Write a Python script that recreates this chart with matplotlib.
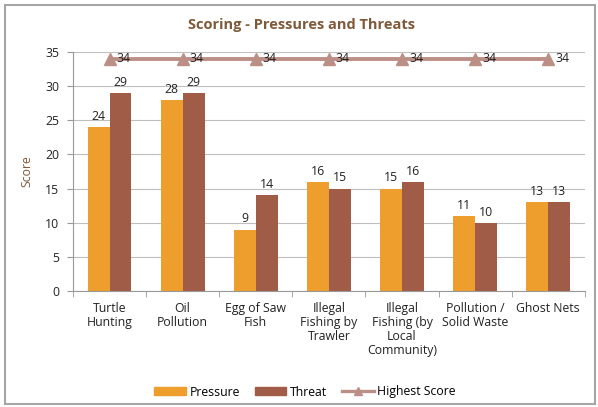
import matplotlib.pyplot as plt
import matplotlib.patches as mpatches
from matplotlib.lines import Line2D
import numpy as np

plt.rcParams['font.family'] = ['Open Sans', 'DejaVu Sans']

## data
categories = ["Turtle\nHunting", "Oil\nPollution", "Egg of Saw\nFish",
              "Illegal\nFishing by\nTrawler",
              "Illegal\nFishing (by\nLocal\nCommunity)",
              "Pollution /\nSolid Waste", "Ghost Nets"]
pressure = [24, 28, 9, 16, 15, 11, 13]
threat = [29, 29, 14, 15, 16, 10, 13]
highest = [34, 34, 34, 34, 34, 34, 34]

c_pressure = "#EE9E2C"
c_threat = "#A05C47"
c_line = "#BC8F86"
c_text = "#7F5A3A"
c_grid = "#BFBFBF"

fig = plt.figure(figsize=(5.98, 4.07), dpi=100)
ax = fig.add_axes([0.122, 0.285, 0.856, 0.587])

x = np.arange(len(categories))
w = 0.30
b1 = ax.bar(x - w / 2, pressure, w, color=c_pressure, zorder=2)
b2 = ax.bar(x + w / 2, threat, w, color=c_threat, zorder=2)
ax.plot(x, highest, color=c_line, lw=2.8, marker="^", ms=8, zorder=3)

for rect, v in zip(list(b1) + list(b2), pressure + threat):
    ax.annotate(str(v), (rect.get_x() + rect.get_width() / 2, v),
                xytext=(0, 3), textcoords="offset points",
                ha="center", va="bottom", fontsize=8.8, color="#222222")
for xi, v in zip(x, highest):
    ax.annotate(str(v), (xi, v), xytext=(5, 0), textcoords="offset points",
                ha="left", va="center", fontsize=8.8, color="#222222", zorder=4)

ax.set_xlim(-0.5, len(categories) - 0.5)
ax.set_ylim(0, 35)
ax.set_yticks(range(0, 36, 5))
ax.yaxis.grid(True, color=c_grid, lw=0.8, zorder=0)
ax.set_xticks(x)
ax.set_xticklabels(categories, fontsize=8.8, linespacing=1.1, color="#222222")
ax.set_xticks(np.arange(-0.5, len(categories)), minor=True)
ax.tick_params(axis="x", which="major", length=0, pad=8)
ax.tick_params(axis="x", which="minor", length=4, color="#999999")
ax.tick_params(axis="y", length=4, color="#999999", labelsize=8.8,
               labelcolor="#222222", pad=6)
for s in ["top", "right"]:
    ax.spines[s].set_visible(False)
for s in ["left", "bottom"]:
    ax.spines[s].set_color("#999999")
ax.set_ylabel("Score", fontsize=8.8, color=c_text, labelpad=8)

fig.text(0.505, 1 - 25 / 407, "Scoring - Pressures and Threats",
         ha="center", va="center", fontsize=10.5, fontweight="bold", color=c_text)

handles = [mpatches.Patch(color=c_pressure, label="Pressure"),
           mpatches.Patch(color=c_threat, label="Threat"),
           Line2D([0], [0], color=c_line, lw=2.4, marker="^", ms=6,
                  label="Highest Score")]
fig.legend(handles=handles, loc="center", bbox_to_anchor=(0.51, 1 - 392 / 407),
           ncol=3, frameon=False, fontsize=8.8, handlelength=2.6,
           handleheight=0.6, columnspacing=1.2, handletextpad=0.3)

fig.add_artist(mpatches.Rectangle((5 / 598, 3 / 407), 590 / 598, 399 / 407,
                                  transform=fig.transFigure, fill=False,
                                  edgecolor="#A6A6A6", lw=1.5))

fig.savefig("out.png", dpi=100)
